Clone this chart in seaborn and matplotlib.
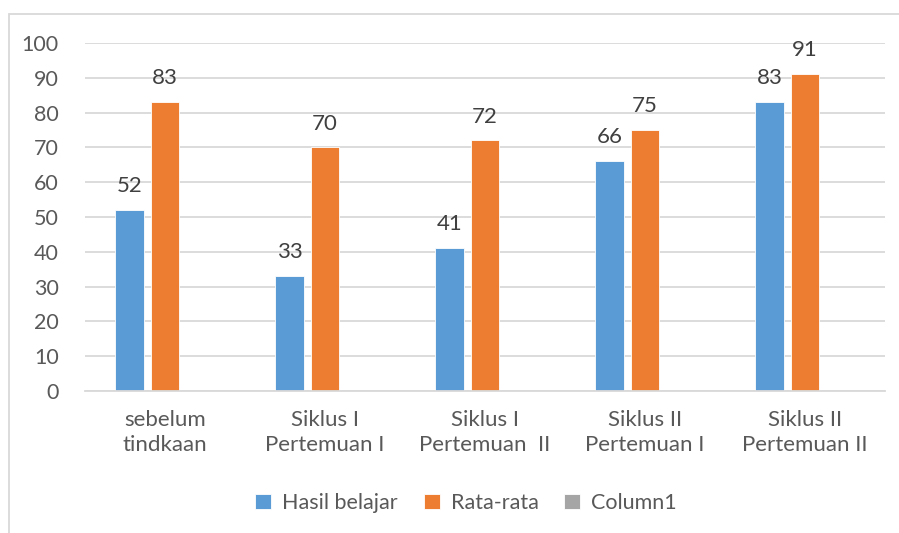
import pandas as pd
import matplotlib.pyplot as plt
import seaborn as sns
from matplotlib.patches import Rectangle

categories = ["sebelum\ntindkaan", "Siklus I\nPertemuan I", "Siklus I\nPertemuan  II",
              "Siklus II\nPertemuan I", "Siklus II\nPertemuan II"]
hasil_belajar = [52, 33, 41, 66, 83]
rata_rata = [83, 70, 72, 75, 91]
column1 = [0, 0, 0, 0, 0]
series = ["Hasil belajar", "Rata-rata", "Column1"]
colors = ["#5B9BD5", "#ED7D31", "#A5A5A5"]

df = pd.DataFrame({
    "Kategori": categories * 3,
    "Nilai": hasil_belajar + rata_rata + column1,
    "Seri": [series[0]] * 5 + [series[1]] * 5 + [series[2]] * 5,
})

sns.set_style("white")
plt.rcParams["font.family"] = ["Lato", "DejaVu Sans"]
text_col = "#595959"

fig = plt.figure(figsize=(8.99, 5.33), dpi=100)
ax = fig.add_axes([85 / 899, 1 - 391 / 533, 800 / 899, 348 / 533])

sns.barplot(data=df, x="Kategori", y="Nilai", hue="Seri", hue_order=series,
            palette=colors, width=0.664, gap=0.2, saturation=1,
            edgecolor="white", linewidth=0.6, ax=ax)

for cont in ax.containers[:2]:
    ax.bar_label(cont, padding=10, fontsize=16, color="#404040")

ax.set_ylim(0, 100)
ax.set_xlim(-0.5, 4.5)
ax.set_yticks(range(0, 101, 10))
ax.yaxis.grid(True, color="#d9d9d9", linewidth=1.3)
ax.set_axisbelow(True)
for s in ["top", "right", "left"]:
    ax.spines[s].set_visible(False)
ax.spines["bottom"].set_color("#d9d9d9")
ax.spines["bottom"].set_linewidth(1.3)
ax.tick_params(axis="y", length=0, labelsize=15.5, labelcolor=text_col, pad=19)
ax.tick_params(axis="x", length=0, labelsize=16, labelcolor=text_col, pad=14)
for t in ax.get_xticklabels():
    t.set_linespacing(1.3)
ax.set_xlabel("")
ax.set_ylabel("")

sns.move_legend(ax, "center", bbox_to_anchor=(466 / 899, 1 - 503 / 533),
                bbox_transform=fig.transFigure, ncol=3, frameon=False,
                title=None, fontsize=15.5, handlelength=0.75, handleheight=0.75,
                handletextpad=0.5, columnspacing=1.2)
for t in ax.get_legend().get_texts():
    t.set_color(text_col)

fig.patches.append(Rectangle((8.5 / 899, -0.1), 1.2, 1 - 14.5 / 533 + 0.1,
                             transform=fig.transFigure, fill=False,
                             edgecolor="#d9d9d9", linewidth=1.3))

fig.savefig("out.png", dpi=100)
